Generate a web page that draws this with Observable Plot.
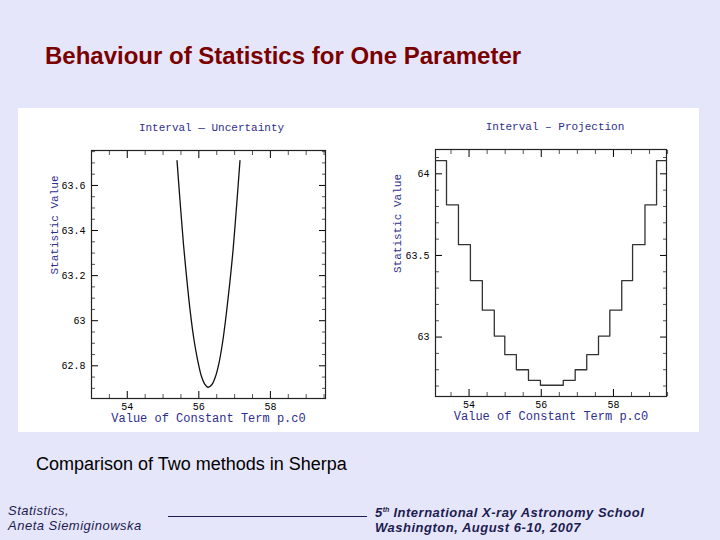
<!DOCTYPE html>
<html><head><meta charset="utf-8">
<script src="https://cdn.jsdelivr.net/npm/d3@7"></script>
<script src="https://cdn.jsdelivr.net/npm/@observablehq/plot@0.6"></script>
<style>
html,body{margin:0;padding:0;}
body{width:720px;height:540px;background:#e6e6fa;position:relative;overflow:hidden;font-family:"Liberation Sans",Arial,sans-serif;}
#title{position:absolute;left:45px;top:42px;font-size:24px;line-height:28px;font-weight:bold;color:#7a0000;white-space:nowrap;}
#panel{position:absolute;left:18px;top:108px;width:681px;height:324px;background:#fff;}
#left{position:absolute;left:18px;top:108px;}
#right{position:absolute;left:358px;top:108px;}
#caption{position:absolute;left:36px;top:454px;font-size:18px;line-height:21px;color:#000;white-space:nowrap;}
.foot{position:absolute;font-style:italic;color:#1c1c50;font-size:13px;line-height:15px;letter-spacing:0.5px;white-space:nowrap;}
.b{font-weight:bold;}
#rule{position:absolute;left:168px;top:516px;width:199px;height:1px;background:#1c1c50;}
sup{font-size:7px;line-height:0;vertical-align:5px;letter-spacing:0;}
</style></head>
<body>
<div id="title">Behaviour of Statistics for One Parameter</div>
<div id="panel"></div>
<div id="left"></div>
<div id="right"></div>
<div id="caption">Comparison of Two methods in Sherpa</div>
<div class="foot" style="left:8px;top:503px;">Statistics,</div>
<div class="foot" style="left:8px;top:518px;">Aneta Siemiginowska</div>
<div id="rule"></div>
<div class="foot b" style="left:375px;top:505px;">5<sup>th</sup> International X-ray Astronomy School</div>
<div class="foot b" style="left:375px;top:520px;">Washington, August 6-10, 2007</div>
<script>
// ---- Data ----
// Left panel: Interval – Uncertainty (smooth curve)
const uncX = [55.39, 55.48, 55.57, 55.66, 55.76, 55.86, 55.96, 56.06, 56.16, 56.26, 56.36, 56.46, 56.56, 56.66, 56.76, 56.86, 56.96, 57.06, 57.15];
const uncStat = [63.71, 63.52, 63.34, 63.19, 63.04, 62.92, 62.83, 62.76, 62.72, 62.705, 62.716, 62.75, 62.81, 62.90, 63.02, 63.16, 63.32, 63.52, 63.71];
// Right panel: Interval – Projection (step function; bin edges and levels)
const projEdges = [53.07, 53.375, 53.706, 54.037, 54.368, 54.699, 54.99, 55.31, 55.646, 55.977, 56.29, 56.61, 56.94, 57.26, 57.586, 57.90, 58.23, 58.53, 58.874, 59.195, 59.47];
const projStat = [64.081, 63.81, 63.566, 63.346, 63.165, 63.006, 62.892, 62.80, 62.735, 62.705, 62.705, 62.735, 62.80, 62.892, 63.006, 63.165, 63.346, 63.566, 63.81, 64.081];
// Tick values
const xMajor = [54, 56, 58];
const xMinor = [53.5, 54.5, 55, 55.5, 56.5, 57, 57.5, 58.5, 59, 59.5];
const yMajorL = [62.8, 63, 63.2, 63.4, 63.6];
const yMinorL = [62.7, 62.75, 62.85, 62.9, 62.95, 63.05, 63.1, 63.15, 63.25, 63.3, 63.35, 63.45, 63.5, 63.55, 63.65, 63.7, 63.75];
const yMajorR = [63, 63.5, 64];
const yMinorR = [62.7, 62.8, 62.9, 63.1, 63.2, 63.3, 63.4, 63.6, 63.7, 63.8, 63.9, 64.1];
const titles = ["Interval — Uncertainty", "Interval – Projection"];
const xLabel = "Value of Constant Term p.c0";
const yLabel = "Statistic Value";

const navy = "#2e2e8c";
const mono = "'Liberation Mono','DejaVu Sans Mono',monospace";

function panel({data, curve, stroke, width, margins, xDomain, yDomain, yMajor, yMinor, title, titleDx, yLabelDx}) {
  return Plot.plot({
    width, height: 324, ...margins,
    style: {fontFamily: mono, fontSize: "10px", color: "#000", background: "white", overflow: "visible"},
    x: {domain: xDomain},
    y: {domain: yDomain},
    marks: [
      Plot.axisX({anchor: "bottom", ticks: xMajor, tickSize: -7, tickPadding: 11, tickFormat: d => String(d), label: null}),
      Plot.axisX({anchor: "top", ticks: xMajor, tickSize: -7, fill: "none", label: null}),
      Plot.axisX({anchor: "bottom", ticks: xMinor, tickSize: -4, fill: "none", label: null, stroke: "#555"}),
      Plot.axisX({anchor: "top", ticks: xMinor, tickSize: -4, fill: "none", label: null, stroke: "#555"}),
      Plot.axisY({anchor: "left", ticks: yMajor, tickSize: -7, tickPadding: 13, tickFormat: d => String(d), label: null}),
      Plot.axisY({anchor: "right", ticks: yMajor, tickSize: -7, fill: "none", label: null}),
      Plot.axisY({anchor: "left", ticks: yMinor, tickSize: -4, fill: "none", label: null, stroke: "#555"}),
      Plot.axisY({anchor: "right", ticks: yMinor, tickSize: -4, fill: "none", label: null, stroke: "#555"}),
      Plot.frame({stroke: "#222", strokeWidth: 1.2}),
      Plot.line(data, {x: "x", y: "y", curve, stroke, strokeWidth: 1.3}),
      Plot.text([title], {frameAnchor: "top", dy: -27, dx: titleDx, fill: navy, fontSize: 11, fontFamily: mono}),
      Plot.text([xLabel], {frameAnchor: "bottom", dy: 23, fill: navy, fontSize: 12, fontFamily: mono}),
      Plot.text([yLabel], {frameAnchor: "left", dx: yLabelDx, rotate: -90, fill: navy, fontSize: 11, fontFamily: mono})
    ]
  });
}

const uncData = uncX.map((x, i) => ({x, y: uncStat[i]}));
const projData = projEdges.map((x, i) => ({x, y: projStat[Math.min(i, projStat.length - 1)]}));

document.getElementById("left").append(panel({
  data: uncData, curve: "catmull-rom", stroke: "#111", width: 340,
  margins: {marginLeft: 73, marginRight: 33, marginTop: 42, marginBottom: 34},
  xDomain: [53.0, 59.54], yDomain: [62.655, 63.755],
  yMajor: yMajorL, yMinor: yMinorL, title: titles[0], titleDx: 3, yLabelDx: -37
}));
document.getElementById("right").append(panel({
  data: projData, curve: "step-after", stroke: "#333", width: 341,
  margins: {marginLeft: 77, marginRight: 33, marginTop: 41, marginBottom: 36},
  xDomain: [53.07, 59.47], yDomain: [62.636, 64.149],
  yMajor: yMajorR, yMinor: yMinorR, title: titles[1], titleDx: 4, yLabelDx: -38
}));
</script>
</body></html>
